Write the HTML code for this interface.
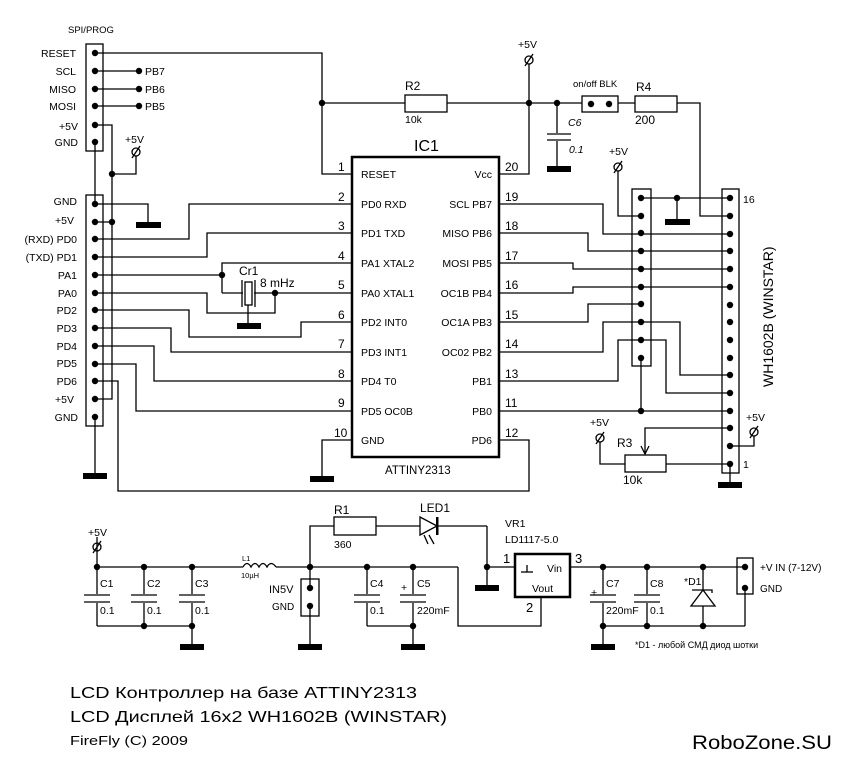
<!DOCTYPE html>
<html><head><meta charset="utf-8"><style>
html,body{margin:0;padding:0;background:#fff;}
svg{display:block;}
text{font-family:"Liberation Sans","DejaVu Sans",sans-serif;fill:#000;}
</style></head><body>
<svg width="848" height="771" viewBox="0 0 848 771" xmlns="http://www.w3.org/2000/svg">
<g fill="none" stroke="#000" stroke-width="1.3">
<rect x="86" y="44" width="17" height="107"/>
<polyline points="95,53 322,53 322,174 352,174"/>
<line x1="322" y1="103" x2="405" y2="103"/>
<line x1="95" y1="71" x2="139" y2="71"/>
<line x1="95" y1="89" x2="139" y2="89"/>
<line x1="95" y1="106" x2="139" y2="106"/>
<polyline points="95,125 112,125 112,399 95,399"/>
<polyline points="112,174 136,174 136,156"/>
<line x1="95" y1="142" x2="95" y2="204"/>
<rect x="86" y="195" width="17" height="231"/>
<polyline points="95,204 148,204 148,224"/>
<line x1="95" y1="222" x2="112" y2="222"/>
<polyline points="95,239 189,239 189,204 352,204"/>
<polyline points="95,257 207,257 207,233 352,233"/>
<polyline points="95,275 222,275"/>
<polyline points="222,293 222,263 352,263"/>
<polyline points="222,293 243,293"/>
<polyline points="254,293 352,293"/>
<polyline points="95,293 207,293 207,313 275,313 275,293"/>
<line x1="248" y1="305" x2="248" y2="325"/>
<polyline points="95,310 189,310 189,337 301,337 301,322 352,322"/>
<polyline points="95,328 171,328 171,352 352,352"/>
<polyline points="95,346 154,346 154,381 352,381"/>
<polyline points="95,364 136,364 136,411 352,411"/>
<polyline points="95,381 118,381 118,491 529,491 529,440 499,440"/>
<line x1="95" y1="417" x2="95" y2="474"/>
<polyline points="352,440 322,440 322,478"/>
<rect x="245" y="282" width="7" height="23"/>
<line x1="242" y1="280" x2="242" y2="307"/>
<line x1="255" y1="280" x2="255" y2="307"/>
<rect x="405" y="95" width="42" height="17"/>
<polyline points="447,103 582,103"/>
<polyline points="499,174 529,174 529,64"/>
<line x1="557" y1="103" x2="557" y2="133"/>
<line x1="557" y1="141" x2="557" y2="167"/>
<line x1="547" y1="134" x2="571" y2="134"/>
<line x1="547" y1="140" x2="571" y2="140"/>
<rect x="582" y="96" width="36" height="16"/>
<line x1="618" y1="103" x2="635" y2="103"/>
<rect x="635" y="96" width="42" height="16"/>
<polyline points="677,103 700,103 700,216 730,216"/>
<rect x="352" y="157" width="147" height="300" stroke-width="2.5"/>
<rect x="632" y="189" width="19" height="177"/>
<rect x="722" y="189" width="17" height="284"/>
<line x1="641" y1="198" x2="730" y2="198"/>
<line x1="677" y1="198" x2="677" y2="220"/>
<polyline points="618,171 618,216 641,216"/>
<polyline points="499,204 603,204 603,234 730,234"/>
<polyline points="499,233 588,233 588,251 730,251"/>
<polyline points="499,263 573,263 573,269 730,269"/>
<polyline points="499,293 573,293 573,287 730,287"/>
<polyline points="499,322 588,322 588,304 641,304"/>
<polyline points="499,352 603,352 603,322 680,322 680,375 730,375"/>
<polyline points="499,381 618,381 618,340 666,340 666,393 730,393"/>
<line x1="499" y1="411" x2="730" y2="411"/>
<line x1="641" y1="358" x2="641" y2="411"/>
<polyline points="730,428 645,428 645,454"/>
<polyline points="641,446 645,454 649,446"/>
<rect x="625" y="455" width="41" height="17"/>
<polyline points="600,442 600,464 625,464"/>
<line x1="666" y1="464" x2="730" y2="464"/>
<line x1="730" y1="464" x2="730" y2="483"/>
<polyline points="730,446 754,446 754,436"/>
<polyline points="97,537 97,567 243,567"/>
<path d="M243,567 q4,-7 8,0 q4,-7 8,0 q4,-7 8,0 q4,-7 9,0"/>
<line x1="276" y1="567" x2="458" y2="567"/>
<polyline points="458,567 458,626 541,626 541,597"/>
<line x1="97" y1="567" x2="97" y2="594"/><line x1="97" y1="603" x2="97" y2="626"/>
<line x1="144" y1="567" x2="144" y2="594"/><line x1="144" y1="603" x2="144" y2="626"/>
<line x1="192" y1="567" x2="192" y2="594"/><line x1="192" y1="603" x2="192" y2="645"/>
<line x1="84" y1="595" x2="110" y2="595"/><line x1="84" y1="602" x2="110" y2="602"/>
<line x1="131" y1="595" x2="157" y2="595"/><line x1="131" y1="602" x2="157" y2="602"/>
<line x1="179" y1="595" x2="205" y2="595"/><line x1="179" y1="602" x2="205" y2="602"/>
<line x1="97" y1="626" x2="192" y2="626"/>
<rect x="301" y="579" width="18" height="37"/>
<line x1="310" y1="567" x2="310" y2="588"/>
<line x1="310" y1="606" x2="310" y2="645"/>
<polyline points="310,567 310,526 334,526"/>
<rect x="334" y="517" width="42" height="18"/>
<line x1="376" y1="526" x2="420" y2="526"/>
<polygon points="420,517 437,526 420,535"/>
<line x1="437" y1="526" x2="487" y2="526"/>
<line x1="487" y1="526" x2="487" y2="586"/>
<line x1="487" y1="567" x2="515" y2="567"/>
<line x1="429" y1="535" x2="434" y2="544"/><line x1="424" y1="535" x2="428" y2="544"/>
<line x1="367" y1="567" x2="367" y2="594"/><line x1="367" y1="603" x2="367" y2="626"/>
<line x1="413" y1="567" x2="413" y2="594"/><line x1="413" y1="603" x2="413" y2="645"/>
<line x1="354" y1="595" x2="380" y2="595"/><line x1="354" y1="602" x2="380" y2="602"/>
<line x1="400" y1="595" x2="426" y2="595"/><line x1="400" y1="602" x2="426" y2="602"/>
<line x1="367" y1="626" x2="413" y2="626"/>
<rect x="515" y="554" width="55" height="43" stroke-width="2.5"/>
<line x1="521" y1="572" x2="533" y2="572"/><line x1="527" y1="565" x2="527" y2="572"/>
<line x1="570" y1="567" x2="745" y2="567"/>
<line x1="603" y1="567" x2="603" y2="594"/><line x1="603" y1="603" x2="603" y2="645"/>
<line x1="647" y1="567" x2="647" y2="594"/><line x1="647" y1="603" x2="647" y2="626"/>
<line x1="590" y1="595" x2="616" y2="595"/><line x1="590" y1="602" x2="616" y2="602"/>
<line x1="634" y1="595" x2="660" y2="595"/><line x1="634" y1="602" x2="660" y2="602"/>
<line x1="703" y1="567" x2="703" y2="590"/><line x1="703" y1="606" x2="703" y2="626"/>
<polygon points="703,590 691,606 715,606"/>
<polyline points="692,590 712,590 712,593"/>
<rect x="737" y="558" width="16" height="36"/>
<line x1="745" y1="588" x2="745" y2="626"/>
<line x1="603" y1="626" x2="745" y2="626"/>
<circle cx="136" cy="152" r="4"/><line x1="132" y1="158" x2="140" y2="146"/>
<circle cx="529" cy="60" r="4"/><line x1="525" y1="66" x2="533" y2="54"/>
<circle cx="618" cy="167" r="4"/><line x1="614" y1="173" x2="622" y2="161"/>
<circle cx="600" cy="438" r="4"/><line x1="596" y1="444" x2="604" y2="432"/>
<circle cx="754" cy="432" r="4"/><line x1="750" y1="438" x2="758" y2="426"/>
<circle cx="97" cy="547" r="4"/><line x1="93" y1="553" x2="101" y2="541"/>
</g>
<g fill="#000">
<rect x="436" y="517" width="2.5" height="18"/>
<rect x="136" y="222" width="25" height="6"/>
<rect x="237" y="323" width="24" height="6"/>
<rect x="83" y="473" width="24" height="6"/>
<rect x="310" y="476" width="24" height="6"/>
<rect x="547" y="166" width="24" height="6"/>
<rect x="665" y="219" width="25" height="6"/>
<rect x="718" y="482" width="24" height="6"/>
<rect x="180" y="644" width="24" height="6"/>
<rect x="298" y="644" width="24" height="6"/>
<rect x="401" y="644" width="24" height="6"/>
<rect x="475" y="585" width="24" height="6"/>
<rect x="591" y="644" width="24" height="6"/>
</g>
<g fill="#000">
<circle cx="95" cy="53" r="3.2"/><circle cx="95" cy="71" r="3.2"/><circle cx="95" cy="89" r="3.2"/><circle cx="95" cy="106" r="3.2"/><circle cx="95" cy="125" r="3.2"/><circle cx="95" cy="142" r="3.2"/>
<circle cx="139" cy="71" r="3.2"/><circle cx="139" cy="89" r="3.2"/><circle cx="139" cy="106" r="3.2"/>
<circle cx="322" cy="103" r="3.2"/><circle cx="112" cy="174" r="3.2"/><circle cx="112" cy="222" r="3.2"/>
<circle cx="95" cy="204" r="3.2"/><circle cx="95" cy="222" r="3.2"/><circle cx="95" cy="239" r="3.2"/><circle cx="95" cy="257" r="3.2"/><circle cx="95" cy="275" r="3.2"/><circle cx="95" cy="293" r="3.2"/><circle cx="95" cy="310" r="3.2"/><circle cx="95" cy="328" r="3.2"/><circle cx="95" cy="346" r="3.2"/><circle cx="95" cy="364" r="3.2"/><circle cx="95" cy="381" r="3.2"/><circle cx="95" cy="399" r="3.2"/><circle cx="95" cy="417" r="3.2"/>
<circle cx="222" cy="275" r="3.2"/><circle cx="275" cy="293" r="3.2"/>
<circle cx="529" cy="103" r="3.2"/><circle cx="557" cy="103" r="3.2"/><circle cx="591" cy="104" r="3.2"/><circle cx="609" cy="104" r="3.2"/>
<circle cx="677" cy="198" r="3.2"/><circle cx="641" cy="411" r="3.2"/>
<circle cx="641" cy="198" r="3.2"/><circle cx="641" cy="216" r="3.2"/><circle cx="641" cy="233" r="3.2"/><circle cx="641" cy="251" r="3.2"/><circle cx="641" cy="269" r="3.2"/><circle cx="641" cy="287" r="3.2"/><circle cx="641" cy="304" r="3.2"/><circle cx="641" cy="322" r="3.2"/><circle cx="641" cy="340" r="3.2"/><circle cx="641" cy="358" r="3.2"/>
<circle cx="730" cy="198" r="3.2"/><circle cx="730" cy="216" r="3.2"/><circle cx="730" cy="234" r="3.2"/><circle cx="730" cy="251" r="3.2"/><circle cx="730" cy="269" r="3.2"/><circle cx="730" cy="287" r="3.2"/><circle cx="730" cy="305" r="3.2"/><circle cx="730" cy="322" r="3.2"/><circle cx="730" cy="340" r="3.2"/><circle cx="730" cy="358" r="3.2"/><circle cx="730" cy="375" r="3.2"/><circle cx="730" cy="393" r="3.2"/><circle cx="730" cy="411" r="3.2"/><circle cx="730" cy="428" r="3.2"/><circle cx="730" cy="446" r="3.2"/><circle cx="730" cy="464" r="3.2"/>
<circle cx="97" cy="567" r="3.2"/><circle cx="144" cy="567" r="3.2"/><circle cx="192" cy="567" r="3.2"/><circle cx="144" cy="626" r="3.2"/><circle cx="192" cy="626" r="3.2"/>
<circle cx="310" cy="567" r="3.2"/><circle cx="367" cy="567" r="3.2"/><circle cx="413" cy="567" r="3.2"/><circle cx="413" cy="626" r="3.2"/>
<circle cx="310" cy="588" r="3.2"/><circle cx="310" cy="606" r="3.2"/><circle cx="487" cy="567" r="3.2"/>
<circle cx="603" cy="567" r="3.2"/><circle cx="647" cy="567" r="3.2"/><circle cx="703" cy="567" r="3.2"/><circle cx="745" cy="567" r="3.2"/><circle cx="745" cy="588" r="3.2"/>
<circle cx="603" cy="626" r="3.2"/><circle cx="647" cy="626" r="3.2"/><circle cx="703" cy="626" r="3.2"/>
</g>
<g font-size="10.5">
<text x="68" y="33" font-size="9.5">SPI/PROG</text>
<g text-anchor="end">
<text x="76" y="57">RESET</text><text x="76" y="75">SCL</text><text x="76" y="93">MISO</text><text x="76" y="110">MOSI</text><text x="78" y="130">+5V</text><text x="78" y="146">GND</text>
<text x="77" y="205">GND</text><text x="74" y="224">+5V</text><text x="77" y="243">(RXD) PD0</text><text x="77" y="261">(TXD) PD1</text><text x="77" y="279">PA1</text><text x="77" y="297">PA0</text><text x="77" y="314">PD2</text><text x="77" y="332">PD3</text><text x="77" y="350">PD4</text><text x="77" y="367">PD5</text><text x="77" y="385">PD6</text><text x="74" y="403">+5V</text><text x="78" y="421">GND</text>
</g>
<text x="145" y="75">PB7</text><text x="145" y="93">PB6</text><text x="145" y="110">PB5</text>
<text x="125" y="143">+5V</text><text x="518" y="48">+5V</text><text x="609" y="155">+5V</text><text x="590" y="426">+5V</text><text x="746" y="421">+5V</text><text x="88" y="536">+5V</text>
<text x="239" y="275" font-size="12">Cr1</text><text x="260" y="287" font-size="12">8 mHz</text>
<text x="405" y="90" font-size="12">R2</text><text x="405" y="123">10k</text>
<text x="568" y="126" font-style="italic">C6</text><text x="569" y="153" font-style="italic">0.1</text>
<text x="573" y="87" font-size="9.5">on/off BLK</text>
<text x="636" y="91" font-size="12">R4</text><text x="635" y="124" font-size="12">200</text>
<text x="414" y="151" font-size="16">IC1</text>
<text x="385" y="474" font-size="11.5">ATTINY2313</text>
<g font-size="12">
<text x="338" y="171">1</text><text x="338" y="201">2</text><text x="338" y="230">3</text><text x="338" y="260">4</text><text x="338" y="289">5</text><text x="338" y="319">6</text><text x="338" y="348">7</text><text x="338" y="378">8</text><text x="338" y="407">9</text><text x="334" y="437">10</text>
<text x="505" y="171">20</text><text x="505" y="201">19</text><text x="505" y="230">18</text><text x="505" y="260">17</text><text x="505" y="289">16</text><text x="505" y="319">15</text><text x="505" y="348">14</text><text x="505" y="378">13</text><text x="505" y="407">11</text><text x="505" y="437">12</text>
</g>
<text x="361" y="178">RESET</text><text x="361" y="208">PD0 RXD</text><text x="361" y="237">PD1 TXD</text><text x="361" y="267">PA1 XTAL2</text><text x="361" y="297">PA0 XTAL1</text><text x="361" y="326">PD2 INT0</text><text x="361" y="356">PD3 INT1</text><text x="361" y="385">PD4 T0</text><text x="361" y="415">PD5 OC0B</text><text x="361" y="444">GND</text>
<g text-anchor="end">
<text x="492" y="178">Vcc</text><text x="492" y="208">SCL PB7</text><text x="492" y="237">MISO PB6</text><text x="492" y="267">MOSI PB5</text><text x="492" y="297">OC1B PB4</text><text x="492" y="326">OC1A PB3</text><text x="492" y="356">OC02 PB2</text><text x="492" y="385">PB1</text><text x="492" y="415">PB0</text><text x="492" y="444">PD6</text>
</g>
<text x="743" y="203">16</text><text x="743" y="468">1</text>
<text transform="translate(773,387) rotate(-90)" font-size="14">WH1602B (WINSTAR)</text>
<text x="617" y="447" font-size="12">R3</text><text x="623" y="484" font-size="12">10k</text>
<text x="334" y="514" font-size="12">R1</text><text x="334" y="548">360</text>
<text x="420" y="512" font-size="12">LED1</text>
<text x="505" y="527">VR1</text><text x="505" y="543">LD1117-5.0</text>
<text x="503" y="563" font-size="13">1</text><text x="575" y="563" font-size="13">3</text><text x="526" y="612" font-size="13">2</text>
<text x="547" y="572">Vin</text><text x="532" y="592">Vout</text>
<text x="242" y="561" font-size="7.5">L1</text><text x="241" y="578" font-size="7.5">10µH</text>
<text x="100" y="587">C1</text><text x="147" y="587">C2</text><text x="195" y="587">C3</text>
<text x="100" y="614">0.1</text><text x="147" y="614">0.1</text><text x="195" y="614">0.1</text>
<text x="269" y="593" font-size="11">IN5V</text><text x="272" y="610" font-size="10">GND</text>
<text x="370" y="587">C4</text><text x="417" y="587">C5</text><text x="370" y="614">0.1</text><text x="417" y="614">220mF</text>
<text x="401" y="591">+</text>
<text x="606" y="587">C7</text><text x="650" y="587">C8</text><text x="606" y="614">220mF</text><text x="650" y="614">0.1</text>
<text x="591" y="596">+</text>
<text x="684" y="585">*D1</text>
<text x="760" y="571" font-size="10">+V IN (7-12V)</text><text x="760" y="592" font-size="10">GND</text>
<text x="635" y="648" font-size="9">*D1 - любой СМД диод шотки</text>
</g>
<g>
<text x="70" y="698" font-size="16" textLength="347" lengthAdjust="spacingAndGlyphs" style="font-family:'Liberation Sans','Noto Sans CJK SC',sans-serif">LCD Контроллер на базе ATTINY2313</text>
<text x="70" y="722" font-size="16" textLength="377" lengthAdjust="spacingAndGlyphs" style="font-family:'Liberation Sans','Noto Sans CJK SC',sans-serif">LCD Дисплей 16x2 WH1602B (WINSTAR)</text>
<text x="70" y="745" font-size="13" textLength="118" lengthAdjust="spacingAndGlyphs">FireFly (C) 2009</text>
<text x="692" y="749" font-size="19" textLength="140" lengthAdjust="spacingAndGlyphs">RoboZone.SU</text>
</g>
</svg>
</body></html>
